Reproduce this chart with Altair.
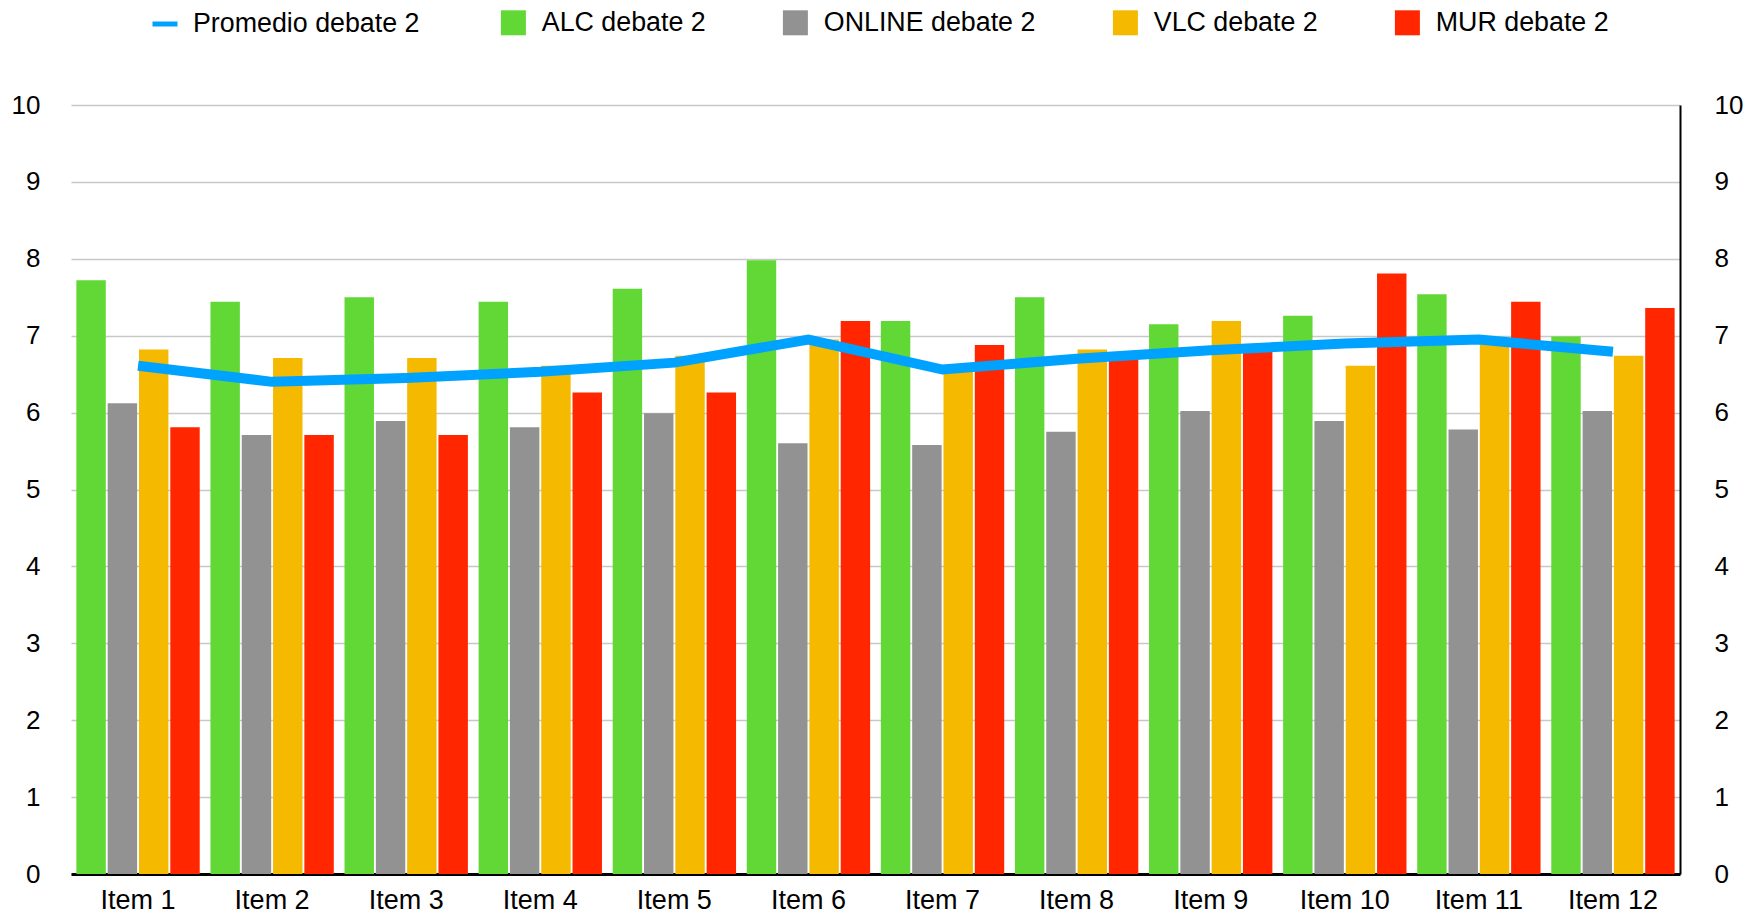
import altair as alt
import pandas as pd

items = ["Item 1", "Item 2", "Item 3", "Item 4", "Item 5", "Item 6",
         "Item 7", "Item 8", "Item 9", "Item 10", "Item 11", "Item 12"]
series = ["ALC debate 2", "ONLINE debate 2", "VLC debate 2", "MUR debate 2"]
colors = ["#62D836", "#929292", "#F5BA00", "#FF2600"]

alc = [7.72, 7.44, 7.50, 7.44, 7.61, 7.98, 7.19, 7.50, 7.15, 7.26, 7.54, 6.99]
online = [6.12, 5.71, 5.89, 5.81, 5.99, 5.60, 5.58, 5.75, 6.02, 5.89, 5.78, 6.02]
vlc = [6.82, 6.71, 6.71, 6.61, 6.74, 6.95, 6.55, 6.82, 7.19, 6.61, 6.90, 6.74]
mur = [5.81, 5.71, 5.71, 6.26, 6.26, 7.19, 6.88, 6.70, 6.83, 7.81, 7.44, 7.36]
promedio = [6.61, 6.40, 6.45, 6.53, 6.65, 6.95, 6.56, 6.70, 6.81, 6.90, 6.95, 6.79]

rows = []
for name, vals in zip(series, [alc, online, vlc, mur]):
    for it, v in zip(items, vals):
        rows.append({"item": it, "serie": name, "valor": v})
df_bars = pd.DataFrame(rows)
df_line = pd.DataFrame({"item": items, "serie": ["Promedio debate 2"] * len(items), "valor": promedio})

FONT = "Liberation Sans"
FS = 26
FSX = 27
FSL = 26.8

x_enc = alt.X(
    "item:N", sort=items,
    scale=alt.Scale(paddingInner=0.08, paddingOuter=0.04),
    axis=alt.Axis(title=None, labelAngle=0, labelOverlap=False, labelFontSize=FSX,
                  labelFont=FONT, labelColor="#000000", ticks=False, tickSize=0,
                  labelPadding=13, domainColor="#000000", domainWidth=3, grid=False),
)

bars = alt.Chart(df_bars).mark_bar().encode(
    x=x_enc,
    xOffset=alt.XOffset("serie:N", sort=series, scale=alt.Scale(paddingInner=0.06)),
    y=alt.Y("valor:Q", scale=alt.Scale(domain=[0, 10]),
            axis=alt.Axis(title=None, values=list(range(0, 11)), labelOverlap=False,
                          labelFontSize=FS, labelFont=FONT, labelColor="#000000",
                          ticks=False, tickSize=0, labelPadding=31, domain=False,
                          grid=True, gridColor="#C8C8C8", gridWidth=1.5)),
    fill=alt.Fill("serie:N", scale=alt.Scale(domain=series, range=colors),
                  legend=alt.Legend(title=None, orient="none", legendX=429, legendY=-96,
                                    direction="horizontal", columns=4, columnPadding=76,
                                    symbolType="square", symbolSize=625, symbolStrokeWidth=0,
                                    labelFontSize=FSL, labelFont=FONT, labelColor="#000000",
                                    labelOffset=15, labelLimit=400, padding=0)),
)

line = alt.Chart(df_line).mark_line(strokeWidth=10).encode(
    x=alt.X("item:N", sort=items),
    y=alt.Y("valor:Q", scale=alt.Scale(domain=[0, 10]),
            axis=alt.Axis(title=None, orient="right", values=list(range(0, 11)), labelOverlap=False,
                          labelFontSize=FS, labelFont=FONT, labelColor="#000000",
                          ticks=False, tickSize=0, labelPadding=34, domain=True,
                          domainColor="#000000", domainWidth=2, grid=False)),
    stroke=alt.Stroke("serie:N", scale=alt.Scale(domain=["Promedio debate 2"], range=["#00A2FF"]),
                      legend=alt.Legend(title=None, orient="none", legendX=79, legendY=-96,
                                        symbolType="stroke", symbolSize=625, symbolStrokeWidth=5,
                                        labelFontSize=FSL, labelFont=FONT, labelColor="#000000",
                                        labelOffset=13, labelLimit=400, padding=0)),
)

chart = alt.layer(bars, line).resolve_axis(y="independent").properties(
    width=1609, height=769,
    padding={"left": 63, "top": 97, "right": 65, "bottom": 40},
    autosize=alt.AutoSizeParams(type="none"),
    background="#FFFFFF",
).configure_view(stroke=None)

chart.save("out.html", embed_options={"renderer": "svg", "actions": False})
